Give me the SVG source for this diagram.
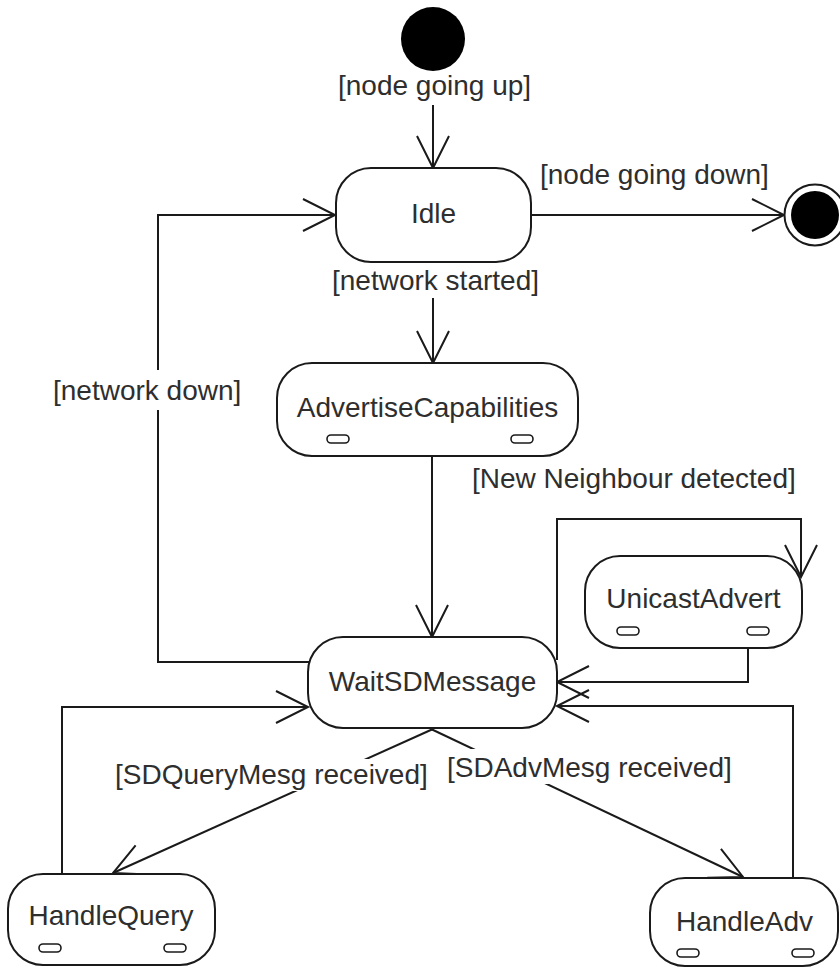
<svg xmlns="http://www.w3.org/2000/svg" width="840" height="967" viewBox="0 0 840 967">
  <style>
    .state { fill: #ffffff; stroke: #1a1a1a; stroke-width: 2; }
    .slot { fill: #ffffff; stroke: #1a1a1a; stroke-width: 1.6; }
    .name { font-family: "Liberation Sans", Arial, sans-serif; font-size: 28px; fill: #2e2e2e; text-anchor: middle; }
    .guard { font-family: "Liberation Sans", Arial, sans-serif; font-size: 28px; fill: #2e2e2e; }
    .edge { fill: none; stroke: #1a1a1a; stroke-width: 2; marker-end: url(#open); }
    .seg { fill: none; stroke: #1a1a1a; stroke-width: 2; }
    .bg { fill: #ffffff; }
  </style>
  <defs>
    <marker id="open" markerUnits="userSpaceOnUse" markerWidth="40" markerHeight="40" viewBox="-34 -20 40 40" refX="0" refY="0" orient="auto">
      <path d="M -32 -16 L 0 0 L -32 16" fill="none" stroke="#1a1a1a" stroke-width="2"/>
    </marker>
  </defs>

  <rect width="840" height="967" fill="#ffffff"/>

  <!-- transitions -->
  <g id="connectors">
    <!-- start -> Idle -->
    <path class="edge" d="M 433 105 L 433 168"/>
    <!-- Idle -> final -->
    <path class="edge" d="M 531 215 L 784 215"/>
    <!-- Idle -> AdvertiseCapabilities -->
    <path class="edge" d="M 433 298 L 433 363"/>
    <!-- AdvertiseCapabilities -> WaitSDMessage -->
    <path class="edge" d="M 432 456 L 432 637"/>
    <!-- WaitSDMessage -> Idle (network down) -->
    <path class="seg" d="M 310 662 L 158 662 L 158 410"/>
    <path class="edge" d="M 158 370 L 158 215 L 335 215"/>
    <!-- WaitSDMessage -> UnicastAdvert (new neighbour) -->
    <path class="edge" d="M 557 660 L 557 519 L 801 519 L 801 577"/>
    <!-- UnicastAdvert -> WaitSDMessage -->
    <path class="edge" d="M 748 648 L 748 682 L 557 682"/>
    <!-- WaitSDMessage -> HandleQuery -->
    <path class="edge" d="M 433 729 L 113 873"/>
    <!-- WaitSDMessage -> HandleAdv -->
    <path class="edge" d="M 431 729 L 743 877"/>
    <!-- HandleQuery -> WaitSDMessage -->
    <path class="edge" d="M 62 874 L 62 707 L 308 707"/>
    <!-- HandleAdv -> WaitSDMessage -->
    <path class="edge" d="M 793 878 L 793 706 L 557 706"/>
  </g>

  <!-- guard labels -->
  <g id="labels">
    <text class="guard" x="338" y="95">[node going up]</text>
    <text class="guard" x="540" y="184">[node going down]</text>
    <text class="guard" x="332" y="290">[network started]</text>
    <text class="guard" x="53" y="400">[network down]</text>
    <text class="guard" x="472" y="488">[New Neighbour detected]</text>
    <rect class="bg" x="115" y="759" width="318" height="32"/>
    <text class="guard" x="115" y="784">[SDQueryMesg received]</text>
    <rect class="bg" x="445" y="749" width="292" height="35"/>
    <text class="guard" x="447" y="777">[SDAdvMesg received]</text>
  </g>

  <g id="initial">
    <circle cx="433" cy="39" r="32" fill="#000000"/>
  </g>

  <g id="final">
    <circle cx="815" cy="215" r="30.5" fill="#ffffff" stroke="#1a1a1a" stroke-width="2"/>
    <circle cx="815" cy="215" r="24" fill="#000000"/>
  </g>

  <g id="idle">
    <rect class="state" x="336" y="168" width="195" height="94" rx="35" ry="35"/>
    <text class="name" x="433.5" y="223">Idle</text>
  </g>

  <g id="advertise-capabilities">
    <rect class="state" x="277" y="363" width="301" height="93" rx="35" ry="35"/>
    <text class="name" x="427.5" y="417">AdvertiseCapabilities</text>
    <rect class="slot" x="327" y="435" width="22" height="8" rx="4"/>
    <rect class="slot" x="511" y="435" width="22" height="8" rx="4"/>
  </g>

  <g id="unicast-advert">
    <rect class="state" x="585" y="556" width="217" height="92" rx="35" ry="35"/>
    <text class="name" x="693.5" y="608">UnicastAdvert</text>
    <rect class="slot" x="617" y="627" width="22" height="8" rx="4"/>
    <rect class="slot" x="747" y="627" width="22" height="8" rx="4"/>
  </g>

  <g id="wait-sd-message">
    <rect class="state" x="308" y="637" width="249" height="91" rx="35" ry="35"/>
    <text class="name" x="432.5" y="691">WaitSDMessage</text>
  </g>

  <g id="handle-query">
    <rect class="state" x="8" y="874" width="207" height="91" rx="35" ry="35"/>
    <text class="name" x="111" y="925">HandleQuery</text>
    <rect class="slot" x="39" y="944" width="22" height="8" rx="4"/>
    <rect class="slot" x="164" y="944" width="22" height="8" rx="4"/>
  </g>

  <g id="handle-adv">
    <rect class="state" x="650" y="878" width="188" height="88" rx="35" ry="35"/>
    <text class="name" x="744.5" y="931">HandleAdv</text>
    <rect class="slot" x="677" y="949" width="22" height="8" rx="4"/>
    <rect class="slot" x="792" y="949" width="22" height="8" rx="4"/>
  </g>
</svg>
